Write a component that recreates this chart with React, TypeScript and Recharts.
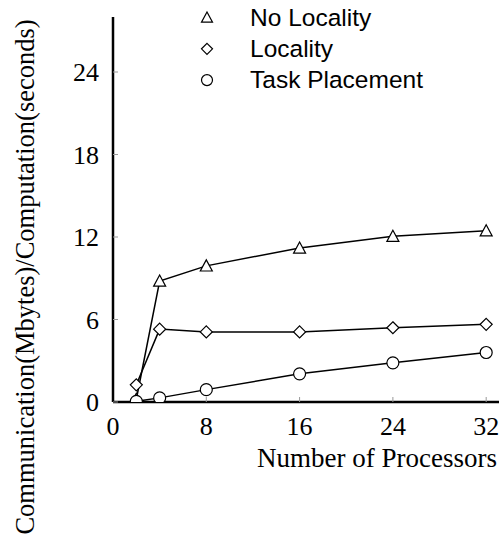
import React from "react"
import { LineChart, Line, XAxis, YAxis } from "recharts"

const processors = [2, 4, 8, 16, 24, 32]
const noLocality = [0.2, 8.8, 9.9, 11.2, 12.05, 12.45]
const locality = [1.25, 5.3, 5.1, 5.1, 5.4, 5.65]
const taskPlacement = [0.05, 0.3, 0.9, 2.05, 2.85, 3.6]
const xTicks = [0, 8, 16, 24, 32]
const yTicks = [0, 6, 12, 18, 24]

const data = processors.map((p, i) => ({
  p,
  noLocality: noLocality[i],
  locality: locality[i],
  taskPlacement: taskPlacement[i],
}))

const serif = "'Liberation Serif', 'Times New Roman', serif"
const sans = "'Liberation Sans', Arial, sans-serif"

const Triangle = ({ cx, cy, s = 6 }: any) => (
  <path
    d={`M${cx},${cy - s} L${cx + s},${cy + s * 0.85} L${cx - s},${cy + s * 0.85} Z`}
    fill="#fff"
    stroke="#000"
    strokeWidth={1.2}
  />
)
const Diamond = ({ cx, cy, s = 6 }: any) => (
  <path
    d={`M${cx},${cy - s} L${cx + s},${cy} L${cx},${cy + s} L${cx - s},${cy} Z`}
    fill="#fff"
    stroke="#000"
    strokeWidth={1.2}
  />
)
const Circle = ({ cx, cy, s = 6 }: any) => (
  <circle cx={cx} cy={cy} r={s} fill="#fff" stroke="#000" strokeWidth={1.2} />
)

const legendItems = [
  { label: "No Locality", Marker: Triangle },
  { label: "Locality", Marker: Diamond },
  { label: "Task Placement", Marker: Circle },
]

const dotOf = (Marker: any) => (props: any) =>
  <Marker key={props.index} cx={props.cx} cy={props.cy} />

export default function App() {
  return (
    <div style={{ position: "absolute", left: 0, top: 0, width: 502, height: 537, background: "#fff" }}>
      <LineChart
        width={502}
        height={537}
        data={data}
        margin={{ top: 17, right: 3, left: 53, bottom: 75 }}
      >
        <XAxis
          dataKey="p"
          type="number"
          domain={[0, 33.1]}
          ticks={xTicks}
          allowDataOverflow
          height={60}
          axisLine={{ stroke: "#000", strokeWidth: 2.5 }}
          tickLine={{ stroke: "#999", strokeWidth: 1 }}
          tickSize={-5}
          tickMargin={20}
          tick={{ fill: "#000", fontFamily: serif, fontSize: 26 }}
          label={{
            content: () => (
              <text x={497} y={467} textAnchor="end" fontFamily={serif} fontSize={27} fill="#000">
                Number of Processors
              </text>
            ),
          }}
        />
        <YAxis
          type="number"
          domain={[0, 28]}
          ticks={yTicks}
          allowDataOverflow
          width={60}
          axisLine={{ stroke: "#000", strokeWidth: 2.5 }}
          tickLine={{ stroke: "#999", strokeWidth: 1 }}
          tickSize={-5}
          tickMargin={19}
          tick={{ fill: "#000", fontFamily: serif, fontSize: 26 }}
          label={{
            content: () => (
              <text
                x={0}
                y={0}
                transform="translate(34,277) rotate(-90)"
                textAnchor="middle"
                fontFamily={serif}
                fontSize={26.5}
                fill="#000"
              >
                Communication(Mbytes)/Computation(seconds)
              </text>
            ),
          }}
        />
        <Line
          type="linear"
          dataKey="noLocality"
          stroke="#000"
          strokeWidth={1.5}
          dot={dotOf(Triangle)}
          isAnimationActive={false}
        />
        <Line
          type="linear"
          dataKey="locality"
          stroke="#000"
          strokeWidth={1.5}
          dot={dotOf(Diamond)}
          isAnimationActive={false}
        />
        <Line
          type="linear"
          dataKey="taskPlacement"
          stroke="#000"
          strokeWidth={1.5}
          dot={dotOf(Circle)}
          isAnimationActive={false}
        />
      </LineChart>
      <svg width={310} height={100} style={{ position: "absolute", left: 190, top: 0 }}>
        {legendItems.map(({ label, Marker }, i) => (
          <g key={label}>
            <Marker cx={17} cy={17.5 + i * 31.3} s={5.5} />
            <text x={60} y={26 + i * 31} fontFamily={sans} fontSize={24.5} fill="#000">
              {label}
            </text>
          </g>
        ))}
      </svg>
    </div>
  )
}
